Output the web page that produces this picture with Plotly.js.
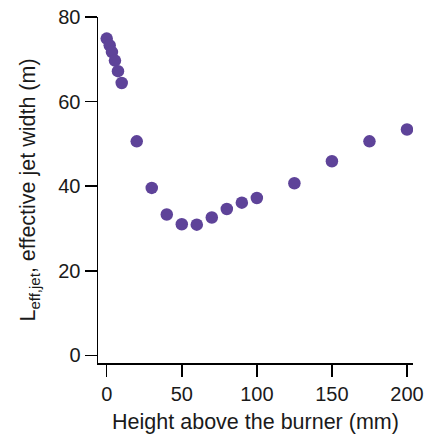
<!DOCTYPE html>
<html>
<head>
<meta charset="utf-8">
<script src="https://cdn.plot.ly/plotly-3.0.1.min.js"></script>
<style>html,body{margin:0;padding:0;background:#fff;}#chart{width:424px;height:437px;}</style>
</head>
<body>
<div id="chart"></div>
<script>
const heights = [0, 2, 3.5, 5.5, 7.5, 10, 20, 30, 40, 50, 60, 70, 80, 90, 100, 125, 150, 175, 200];
const jetWidth = [74.9, 73.3, 71.7, 69.7, 67.2, 64.4, 50.6, 39.6, 33.3, 31.0, 30.9, 32.6, 34.6, 36.1, 37.2, 40.7, 45.9, 50.6, 53.4];
const xTicks = [0, 50, 100, 150, 200];
const yTicks = [0, 20, 40, 60, 80];

const FAM = 'Liberation Sans, Arial, sans-serif';
function titleFont() { return {family: FAM, size: 21.5, color: '#1a1a1a'}; }
function tickFont() { return {family: FAM, size: 20, color: '#1a1a1a'}; }

const trace = {
  x: heights, y: jetWidth, type: 'scatter', mode: 'markers',
  marker: {color: '#5e4399', size: 12.5, line: {width: 0}},
  hoverinfo: 'none'
};
const layout = {
  width: 424, height: 437,
  margin: {l: 98, r: 11.3, t: 16.5, b: 74.3},
  paper_bgcolor: '#ffffff', plot_bgcolor: '#ffffff',
  showlegend: false,
  font: titleFont(),
  xaxis: {
    range: [-5.8, 204], tickmode: 'array', tickvals: xTicks, ticktext: xTicks.map(String),
    showgrid: false, zeroline: false, showline: true, linecolor: '#000000', linewidth: 1.5,
    ticks: 'outside', ticklen: 12, tickwidth: 1.5, tickcolor: '#000000',
    tickfont: tickFont(), automargin: false,
    title: {text: 'Height above the burner (mm)', font: titleFont(), standoff: 10}
  },
  yaxis: {
    range: [-1.8, 80], tickmode: 'array', tickvals: yTicks, ticktext: yTicks.map(String),
    ticksuffix: '\u00a0',
    showgrid: false, zeroline: false, showline: true, linecolor: '#000000', linewidth: 1.5,
    ticks: 'outside', ticklen: 12, tickwidth: 1.5, tickcolor: '#000000',
    tickfont: tickFont(), automargin: false,
    title: {text: 'L<sub>eff,jet</sub>, effective jet width (m)', font: titleFont(), standoff: 16}
  }
};
Plotly.newPlot('chart', [trace], layout, {staticPlot: true, displayModeBar: false});
</script>
</body>
</html>
